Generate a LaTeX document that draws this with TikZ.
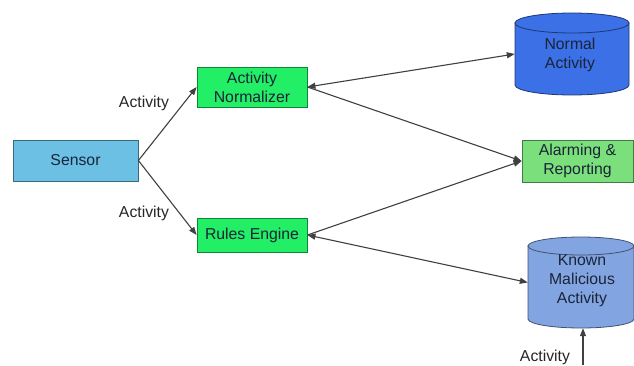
\documentclass[tikz,border=0pt]{standalone}
\usepackage{fontspec}
\setmainfont{Liberation Sans}
\usetikzlibrary{arrows.meta}
\definecolor{sensorfill}{HTML}{6CC0E4}
\definecolor{brightgreen}{HTML}{22EE66}
\definecolor{lightgreen}{HTML}{7BE07B}
\definecolor{normalblue}{HTML}{3C70E6}
\definecolor{knownblue}{HTML}{82A5E2}
\definecolor{linegray}{HTML}{404040}
\definecolor{txt}{HTML}{1A2438}
\tikzset{
  boxstyle/.style={draw=#1!55!black, line width=0.8pt, rectangle, inner sep=0pt, align=center,
    text=txt, font=\fontsize{15.8}{19}\selectfont},
  cylstyle/.style={draw=#1!50!black, line width=0.8pt, fill=#1},
  flow/.style={draw=linegray, line width=1.1pt, -{Triangle[length=8pt,width=6pt]}},
  flowboth/.style={draw=linegray, line width=1.1pt, {Triangle[length=8pt,width=6pt]}-{Triangle[length=8pt,width=6pt]}},
  lbl/.style={text=black!85, font=\fontsize{15.8}{19}\selectfont, inner sep=0pt}
}
\begin{document}
\begin{tikzpicture}[x=1pt,y=1pt]
\useasboundingbox (0,0) rectangle (634,365);
% boxes
\node[boxstyle=sensorfill, fill=sensorfill, minimum width=125pt, minimum height=41pt] (s) at (75.5,204.5) {Sensor};
\node[boxstyle=brightgreen, fill=brightgreen, minimum width=110pt, minimum height=40pt] (an) at (252,278) {Activity\\Normalizer};
\node[boxstyle=brightgreen, fill=brightgreen, minimum width=110pt, minimum height=34pt] (re) at (252,130) {Rules Engine};
\node[boxstyle=lightgreen, fill=lightgreen, minimum width=111pt, minimum height=42pt] (al) at (577.5,204) {Alarming \&\\Reporting};
% Normal Activity cylinder
\path[cylstyle=normalblue] (515,280) arc[start angle=180, end angle=360, x radius=57, y radius=10] -- (629,342) -- (515,342) -- cycle;
\path[cylstyle=normalblue] (572,342) ellipse [x radius=57, y radius=10];
\node[inner sep=0pt, minimum width=114pt, minimum height=82pt] (na) at (572,311) {};
\node[align=center, text=txt, font=\fontsize{15.8}{19}\selectfont, inner sep=0pt] (natext) at (570,310) {Normal\\Activity};
% Known Malicious Activity cylinder
\path[cylstyle=knownblue] (528,46) arc[start angle=180, end angle=360, x radius=53, y radius=9] -- (634,119) -- (528,119) -- cycle;
\path[cylstyle=knownblue] (581,119) ellipse [x radius=53, y radius=9];
\node[inner sep=0pt, minimum width=106pt, minimum height=91pt] (km) at (581,82.5) {};
\node[align=center, text=txt, font=\fontsize{15.8}{19}\selectfont, inner sep=0pt] (kmtext) at (582,84) {Known\\Malicious\\Activity};
% connectors
\draw[flow] (s.east) -- (an.west);
\draw[flow] (s.east) -- (re.west);
\draw[flowboth] (an.east) -- (na.west);
\draw[flow] (an.east) -- (al.west);
\draw[flow] (re.east) -- (al.west);
\draw[flowboth] (re.east) -- (km.west);
\coordinate (kb) at (583,0);
\draw[flow] (kb) -- (kb |- km.south);
% labels
\node[lbl] (l1) at (144,262) {Activity};
\node[lbl] (l2) at (144,152) {Activity};
\node[lbl] (l3) at (545,8) {Activity};
\end{tikzpicture}
\end{document}
